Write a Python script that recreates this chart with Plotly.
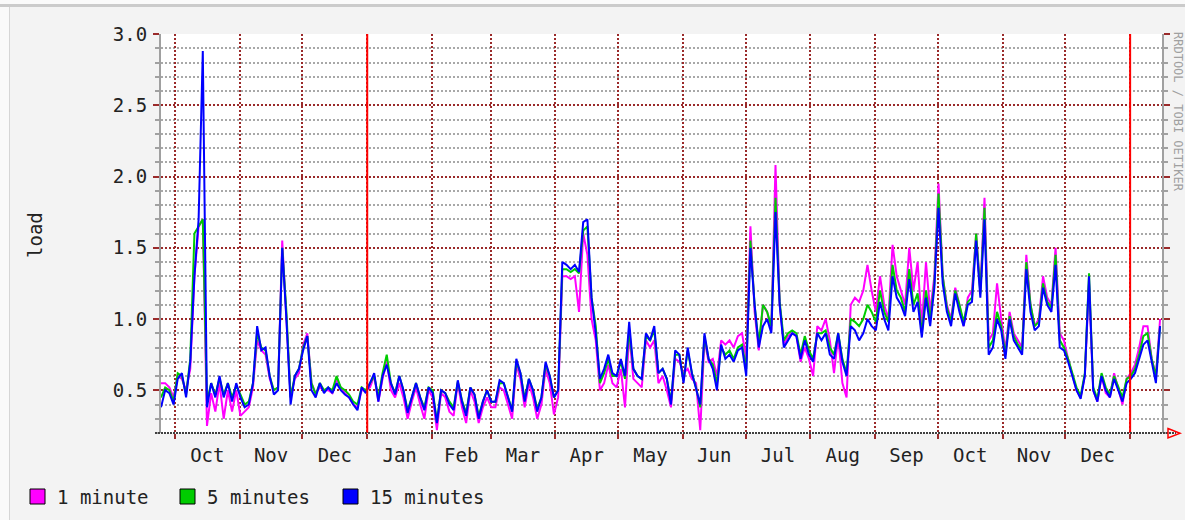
import pandas as pd
import plotly.graph_objects as go

# ---------------- data ----------------
start_date = "2005-09-24 08:00"
step_days = 2

load_15min = [
    0.38, 0.5, 0.48, 0.4, 0.58, 0.62, 0.45, 0.7, 1.3, 1.7,
    2.88, 0.38, 0.55, 0.45, 0.6, 0.45, 0.55, 0.42, 0.55, 0.45,
    0.38, 0.4, 0.55, 0.95, 0.78, 0.8, 0.6, 0.47, 0.5, 1.5,
    1.0, 0.4, 0.6, 0.65, 0.78, 0.88, 0.5, 0.45, 0.55, 0.48,
    0.52, 0.48, 0.55, 0.5, 0.47, 0.45, 0.4, 0.36, 0.52, 0.48,
    0.55, 0.62, 0.42, 0.6, 0.68, 0.55, 0.47, 0.6, 0.5, 0.34,
    0.45, 0.55, 0.45, 0.36, 0.52, 0.48, 0.27, 0.5, 0.48, 0.4,
    0.36, 0.57, 0.42, 0.32, 0.52, 0.47, 0.3, 0.42, 0.5, 0.42,
    0.42, 0.57, 0.55, 0.45, 0.35, 0.72, 0.62, 0.42, 0.58, 0.5,
    0.35, 0.45, 0.7, 0.6, 0.45, 0.5, 1.4, 1.38, 1.35, 1.38,
    1.33, 1.68, 1.7, 1.15, 0.9, 0.58, 0.65, 0.75, 0.62, 0.6,
    0.72, 0.6, 0.98, 0.65, 0.6, 0.58, 0.9, 0.85, 0.95, 0.62,
    0.65, 0.58, 0.4, 0.78, 0.75, 0.55, 0.8, 0.62, 0.5, 0.4,
    0.9, 0.72, 0.65, 0.5, 0.82, 0.72, 0.75, 0.7, 0.78, 0.8,
    0.6, 1.5, 1.1, 0.8, 0.95, 1.0, 0.9, 1.75, 1.1, 0.8,
    0.85, 0.9, 0.88, 0.72, 0.85, 0.75, 0.7, 0.9, 0.85, 0.9,
    0.75, 0.72, 0.9, 0.7, 0.6, 0.95, 0.92, 0.85, 0.9, 1.0,
    0.95, 0.92, 1.12, 1.0, 0.92, 1.3, 1.15, 1.1, 1.02, 1.28,
    1.05, 1.12, 0.87, 1.15, 0.95, 1.22, 1.78, 1.25, 1.05, 0.95,
    1.18, 1.05, 0.95, 1.1, 1.12, 1.55, 1.15, 1.7, 0.75, 0.8,
    1.0, 0.92, 0.72, 1.0, 0.85, 0.8, 0.75, 1.35, 1.05, 0.92,
    0.95, 1.22, 1.1, 1.05, 1.38, 0.8, 0.78, 0.7, 0.6, 0.5,
    0.44, 0.6, 1.3, 0.5, 0.42, 0.6, 0.5, 0.45, 0.58, 0.5,
    0.42, 0.55, 0.58, 0.62, 0.72, 0.82, 0.85, 0.7, 0.55, 0.95,
]

load_5min = [
    0.45, 0.52, 0.5, 0.42, 0.62, 0.6, 0.47, 0.72, 1.6, 1.65,
    1.7, 0.42, 0.55, 0.47, 0.58, 0.47, 0.55, 0.45, 0.53, 0.47,
    0.4, 0.42, 0.55, 0.9, 0.8, 0.78, 0.6, 0.5, 0.52, 1.5,
    1.05, 0.45, 0.6, 0.65, 0.8, 0.88, 0.55, 0.47, 0.55, 0.5,
    0.52, 0.5, 0.6, 0.52, 0.5, 0.47, 0.42, 0.4, 0.52, 0.5,
    0.55, 0.6, 0.45, 0.62, 0.75, 0.55, 0.48, 0.6, 0.5, 0.36,
    0.45, 0.55, 0.45, 0.38, 0.52, 0.5, 0.28, 0.5, 0.48, 0.42,
    0.38, 0.56, 0.43, 0.34, 0.52, 0.47, 0.32, 0.42, 0.5, 0.42,
    0.42, 0.55, 0.55, 0.45, 0.36, 0.7, 0.62, 0.44, 0.58, 0.5,
    0.37, 0.45, 0.68, 0.6, 0.45, 0.5, 1.35, 1.35, 1.33, 1.35,
    1.32, 1.62, 1.65, 1.15, 0.95, 0.55, 0.62, 0.72, 0.6, 0.6,
    0.7, 0.58, 0.92, 0.65, 0.6, 0.58, 0.88, 0.85, 0.92, 0.62,
    0.65, 0.58, 0.42, 0.75, 0.75, 0.57, 0.78, 0.62, 0.52, 0.38,
    0.88, 0.72, 0.68, 0.55, 0.8, 0.75, 0.78, 0.72, 0.8, 0.82,
    0.65, 1.55, 1.1, 0.82, 1.1, 1.05, 0.95, 1.85, 1.12, 0.85,
    0.9, 0.92, 0.9, 0.75, 0.88, 0.78, 0.72, 0.9, 0.9, 0.92,
    0.8, 0.75, 0.9, 0.72, 0.62, 1.0, 0.98, 0.95, 1.0, 1.1,
    1.05, 0.98, 1.2, 1.05, 0.98, 1.38, 1.2, 1.15, 1.05, 1.35,
    1.1, 1.18, 0.9, 1.2, 1.0, 1.25, 1.88, 1.3, 1.08, 0.98,
    1.2, 1.1, 0.98, 1.12, 1.15, 1.6, 1.18, 1.78, 0.8, 0.85,
    1.05, 0.95, 0.75, 1.02, 0.88, 0.82, 0.78, 1.4, 1.1, 0.95,
    0.98, 1.25, 1.12, 1.08, 1.45, 0.85, 0.8, 0.72, 0.62, 0.52,
    0.46, 0.62, 1.32, 0.52, 0.44, 0.62, 0.52, 0.47, 0.6, 0.52,
    0.45, 0.58, 0.6, 0.65, 0.75, 0.88, 0.9, 0.72, 0.6, 0.95,
]

load_1min = [
    0.55, 0.55, 0.52, 0.45, 0.6, 0.58, 0.5, 0.65, 1.3, 1.65,
    1.7, 0.25, 0.48, 0.35, 0.55, 0.3, 0.5, 0.35, 0.5, 0.32,
    0.35, 0.38, 0.52, 0.85, 0.78, 0.75, 0.58, 0.5, 0.52, 1.55,
    1.0, 0.45, 0.58, 0.62, 0.82, 0.9, 0.55, 0.48, 0.52, 0.5,
    0.5, 0.48, 0.58, 0.52, 0.48, 0.45, 0.4, 0.38, 0.5, 0.5,
    0.52, 0.6, 0.42, 0.58, 0.7, 0.5, 0.45, 0.55, 0.45, 0.3,
    0.42, 0.52, 0.4, 0.3, 0.5, 0.45, 0.22, 0.48, 0.45, 0.35,
    0.32, 0.55, 0.38, 0.27, 0.5, 0.42, 0.27, 0.38, 0.45, 0.38,
    0.38, 0.52, 0.5, 0.4, 0.3, 0.68, 0.58, 0.38, 0.55, 0.45,
    0.3, 0.4, 0.65, 0.55, 0.33, 0.45, 1.3, 1.3, 1.28, 1.3,
    1.05, 1.6, 1.45, 1.0, 0.85, 0.5, 0.55, 0.68, 0.55, 0.52,
    0.65, 0.38, 0.9, 0.58, 0.55, 0.52, 0.85, 0.8, 0.85, 0.55,
    0.6, 0.5, 0.38, 0.72, 0.7, 0.62, 0.65, 0.58, 0.55, 0.22,
    0.85, 0.7, 0.72, 0.6, 0.85, 0.82, 0.85, 0.8, 0.88, 0.9,
    0.72, 1.65, 1.05, 0.78, 1.1, 1.05, 0.92, 2.08, 1.1, 0.82,
    0.88, 0.9, 0.88, 0.7, 0.8, 0.72, 0.6, 0.95, 0.92, 1.0,
    0.85, 0.62, 0.88, 0.55, 0.45, 1.1, 1.15, 1.12, 1.2, 1.38,
    1.2, 1.05, 1.3, 1.1, 1.0, 1.52, 1.3, 1.2, 1.1, 1.5,
    1.2, 1.4, 0.95, 1.4, 1.05, 1.3, 1.95, 1.3, 1.1, 1.0,
    1.22, 1.1, 0.95, 1.15, 1.2, 1.6, 1.2, 1.85, 0.85, 0.9,
    1.25, 1.0, 0.78, 1.05, 0.9, 0.85, 0.8, 1.45, 1.1, 0.95,
    1.0, 1.3, 1.15, 1.1, 1.5, 0.9, 0.85, 0.72, 0.6, 0.5,
    0.45, 0.6, 1.25, 0.5, 0.42, 0.6, 0.48, 0.45, 0.62, 0.5,
    0.4, 0.58, 0.62, 0.68, 0.8, 0.95, 0.95, 0.72, 0.6, 1.0,
]

series_names = ["1 minute", "5 minutes", "15 minutes"]
series_colors = ["#FF00FF", "#00CC00", "#0000FF"]
y_label = "load"
watermark = "RRDTOOL / TOBI OETIKER"
x_range = ["2005-09-24 08:00", "2007-01-16 06:00"]
y_range = [0.2, 3.0]
year_lines = ["2006-01-01", "2007-01-01"]

dates = pd.date_range(start_date, periods=len(load_15min), freq=f"{step_days}D")

# ---------------- figure ----------------
W, H = 1185, 520
L, R, T, B = 161, 23, 34, 87
PW, PH = W - L - R, H - T - B

def px(x):
    return (x - L) / PW

def py(y):
    return (H - B - y) / PH

FONT = "DejaVu Sans Mono, monospace"
GRID_RED = "#9a2a2a"
GRID_GRAY = "#a8a8a8"

fig = go.Figure()
for name, vals, col in zip(series_names, [load_1min, load_5min, load_15min], series_colors):
    fig.add_trace(go.Scatter(x=dates, y=vals, mode="lines", name=name,
                             line=dict(color=col, width=2), showlegend=False, hoverinfo="skip"))

shapes = []
# background frame accents
shapes.append(dict(type="rect", xref="paper", yref="paper", x0=px(0), x1=px(W), y0=py(0), y1=py(4),
                   fillcolor="#fafafa", line=dict(width=0), layer="below"))
shapes.append(dict(type="rect", xref="paper", yref="paper", x0=px(0), x1=px(W), y0=py(4), y1=py(7),
                   fillcolor="#cbcbcb", line=dict(width=0), layer="below"))
shapes.append(dict(type="rect", xref="paper", yref="paper", x0=px(0), x1=px(9), y0=py(H), y1=py(7),
                   fillcolor="#fafafa", line=dict(width=0), layer="below"))
shapes.append(dict(type="line", xref="paper", yref="paper", x0=px(9.5), x1=px(9.5), y0=py(H), y1=py(7),
                   line=dict(color="#d6d6d6", width=1), layer="below"))
# year boundaries
for d in year_lines:
    shapes.append(dict(type="line", xref="x", yref="paper", x0=d, x1=d, y0=0, y1=1,
                       line=dict(color="#ff0000", width=2)))
# x axis line (dotted) and arrow
shapes.append(dict(type="line", xref="paper", yref="paper", x0=px(155), x1=px(1176), y0=0, y1=0,
                   line=dict(color="#404040", width=2, dash="2px,1px")))
shapes.append(dict(type="path", xref="paper", yref="paper",
                   path=f"M {px(1168)},{py(428.5)} L {px(1180)},{py(433.3)} L {px(1168)},{py(438)} Z",
                   line=dict(color="#ff0000", width=1.5), fillcolor="rgba(0,0,0,0)"))
# legend boxes
legend_x = [30, 180, 343]
for lx, col in zip(legend_x, series_colors):
    shapes.append(dict(type="rect", xref="paper", yref="paper", x0=px(lx), x1=px(lx + 15),
                       y0=py(504), y1=py(489), fillcolor=col, line=dict(color="#000000", width=1)))

annotations = []
for lx, name in zip(legend_x, series_names):
    annotations.append(dict(xref="paper", yref="paper", x=px(lx + 25), y=py(497), text=name,
                            showarrow=False, xanchor="left", yanchor="middle",
                            font=dict(family=FONT, size=19, color="#222222")))
annotations.append(dict(xref="paper", yref="paper", x=px(35), y=py(235), text=y_label, textangle=-90,
                        showarrow=False, xanchor="center", yanchor="middle",
                        font=dict(family=FONT, size=19, color="#222222")))
annotations.append(dict(xref="paper", yref="paper", x=px(1178), y=py(112), text=watermark, textangle=90,
                        showarrow=False, xanchor="center", yanchor="middle",
                        font=dict(family=FONT, size=12, color="#a0a0a0")))

fig.update_layout(
    width=W, height=H,
    margin=dict(l=L, r=R, t=T, b=B, pad=0),
    paper_bgcolor="#F3F3F3", plot_bgcolor="#FFFFFF",
    shapes=shapes, annotations=annotations,
    font=dict(family=FONT, size=19, color="#222222"),
    hovermode=False,
    xaxis=dict(
        type="date", range=x_range, dtick="M1", tick0="2005-10-01", tickformat="%b",
        ticklabelmode="period", showgrid=True, gridcolor=GRID_RED, gridwidth=1.5, griddash="2px,2px",
        ticks="outside", ticklen=5, tickcolor=GRID_RED, tickwidth=2, showline=False, zeroline=False,
        ticklabelstandoff=0,
    ),
    yaxis=dict(
        range=y_range, dtick=0.5, tick0=0, tickformat=".1f",
        showgrid=True, gridcolor=GRID_RED, gridwidth=1.5, griddash="2px,2px",
        ticks="outside", ticklen=6, tickcolor=GRID_RED, tickwidth=2,
        showline=True, linecolor="#a0a0a0", linewidth=2, mirror="allticks", zeroline=False,
        ticklabelstandoff=2,
        minor=dict(dtick=0.1, tick0=0, showgrid=True, gridcolor=GRID_GRAY, gridwidth=1.5,
                   griddash="2px,2px", ticks="outside", ticklen=4, tickcolor="#a0a0a0", tickwidth=2),
    ),
)

fig.write_html("out.html", config={"displayModeBar": False},
               post_script="document.body.style.margin='0';document.body.style.background='#F3F3F3';")
